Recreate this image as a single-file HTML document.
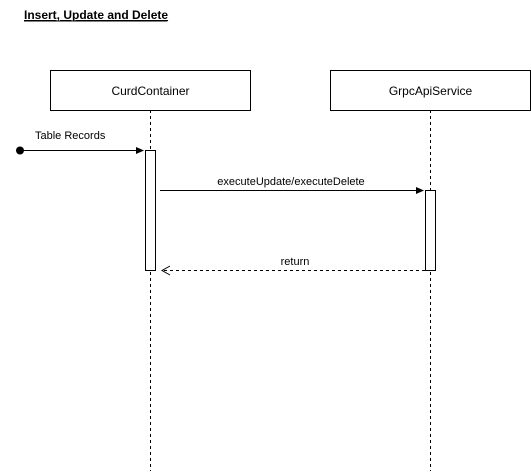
<!DOCTYPE html>
<html><head><style>body{margin:0;background:#fff}</style></head><body>
<svg width="531" height="471" xmlns="http://www.w3.org/2000/svg" font-family="Liberation Sans, Arial, sans-serif">
<rect width="531" height="471" fill="#fff"/>
<text x="24" y="19" font-size="12" font-weight="bold" text-decoration="underline">Insert, Update and Delete</text>
<line x1="24" y1="21" x2="167" y2="21" stroke="#000" stroke-width="1"/>
<line x1="150.5" y1="110" x2="150.5" y2="471" stroke="#000" stroke-dasharray="3,3"/>
<line x1="430.5" y1="110" x2="430.5" y2="471" stroke="#000" stroke-dasharray="3,3"/>
<rect x="50.5" y="70.5" width="200" height="40" fill="#fff" stroke="#000"/>
<text x="150.5" y="95" font-size="12" text-anchor="middle">CurdContainer</text>
<rect x="330.5" y="70.5" width="200" height="40" fill="#fff" stroke="#000"/>
<text x="430.5" y="95" font-size="12" text-anchor="middle">GrpcApiService</text>
<rect x="145.5" y="150.5" width="10" height="120" fill="#fff" stroke="#000"/>
<rect x="425.5" y="190.5" width="10" height="80" fill="#fff" stroke="#000"/>
<circle cx="20" cy="150.5" r="4" fill="#000"/>
<line x1="20" y1="150.5" x2="136" y2="150.5" stroke="#000"/>
<polygon points="144,150.5 136,147 136,154" fill="#000"/>
<text x="35" y="139" font-size="11">Table Records</text>
<line x1="160" y1="190.5" x2="416" y2="190.5" stroke="#000"/>
<polygon points="424,190.5 416,187 416,194" fill="#000"/>
<text x="291" y="185" font-size="11" text-anchor="middle">executeUpdate/executeDelete</text>
<line x1="425" y1="270.5" x2="162" y2="270.5" stroke="#000" stroke-dasharray="3,3"/>
<polyline points="170,266 162,270.5 170,275" fill="none" stroke="#000"/>
<text x="295" y="265" font-size="11" text-anchor="middle">return</text>
</svg>
</body></html>
